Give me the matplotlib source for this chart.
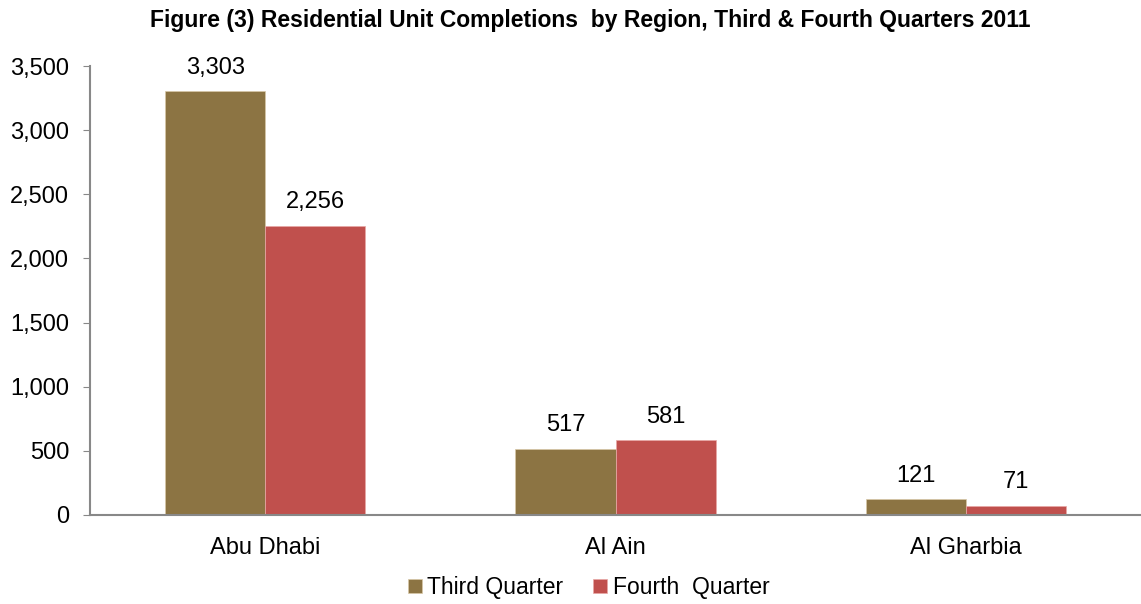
import matplotlib
matplotlib.use("Agg")
import matplotlib.pyplot as plt
import numpy as np

plt.rcParams["font.family"] = ["Liberation Sans", "DejaVu Sans"]

regions = ["Abu Dhabi", "Al Ain", "Al Gharbia"]
third_q = [3303, 517, 121]
fourth_q = [2256, 581, 71]
yticks = [0, 500, 1000, 1500, 2000, 2500, 3000, 3500]

fig = plt.figure(figsize=(11.41, 6.04), dpi=100)
ax = fig.add_axes([0.0789, 0.1474, 0.9211, 0.7433])

x = np.arange(len(regions))
w = 0.286
b1 = ax.bar(x - w / 2, third_q, w, color="#8C7443", edgecolor="#d8c8a8", linewidth=0.5,
            label="Third Quarter")
b2 = ax.bar(x + w / 2, fourth_q, w, color="#C0504D", edgecolor="#e8a8a6", linewidth=0.5,
            label="Fourth  Quarter")

for bars in (b1, b2):
    for r in bars:
        ax.annotate(f"{int(r.get_height()):,}", (r.get_x() + r.get_width() / 2, r.get_height()),
                    xytext=(0, 9), textcoords="offset points", ha="center", va="bottom",
                    fontsize=17)

ax.set_xlim(-0.5, 2.5)
ax.set_ylim(0, 3500)
ax.set_yticks(yticks)
ax.set_yticklabels([f"{v:,}" for v in yticks], fontsize=17)
ax.set_xticks(x)
ax.set_xticklabels(regions, fontsize=17)
ax.tick_params(axis="y", length=5, color="#888888", pad=10)
ax.tick_params(axis="x", length=0, pad=16)

for s in ("top", "right"):
    ax.spines[s].set_visible(False)
for s in ("left", "bottom"):
    ax.spines[s].set_color("#888888")
    ax.spines[s].set_linewidth(1.5)

fig.suptitle("Figure (3) Residential Unit Completions  by Region, Third & Fourth Quarters 2011",
             fontsize=16.5, fontweight="bold", x=0.517, y=0.985)

fig.legend(handles=[b1, b2], loc="lower center", bbox_to_anchor=(0.516, -0.026), ncol=2,
           frameon=False, fontsize=16.5, handlelength=0.6, handleheight=0.6,
           handletextpad=0.25, columnspacing=1.3)

fig.savefig("out.png", dpi=100)
